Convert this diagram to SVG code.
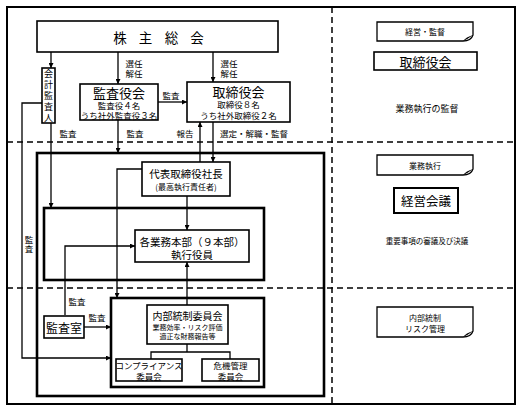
<svg xmlns="http://www.w3.org/2000/svg" width="525" height="411" viewBox="0 0 525 411">
<style>
text{font-family:"Noto Sans CJK JP","Noto Sans",sans-serif;fill:#000;text-anchor:middle;dominant-baseline:central}
.box{fill:#fff;stroke:#000;stroke-width:1.6}
.thick{fill:none;stroke:#000;stroke-width:2.6}
.dash{fill:none;stroke:#000;stroke-width:1.5;stroke-dasharray:6 4}
.ln{fill:none;stroke:#000;stroke-width:1.3}
.arr{fill:none;stroke:#000;stroke-width:1.3;marker-end:url(#ah)}
.lbl{font-size:8.5px}
.vt{writing-mode:tb;text-anchor:middle;dominant-baseline:central}
.note{fill:#fff;stroke:#000;stroke-width:1.3}
</style>
<defs>
<marker id="ah" viewBox="0 0 10 10" refX="10" refY="5" markerWidth="5" markerHeight="5" orient="auto" markerUnits="userSpaceOnUse">
<path d="M0,0 L10,5 L0,10 Z" fill="#000"/>
</marker>
</defs>
<rect width="525" height="411" fill="#fff"/>
<g id="frame">
<rect x="7" y="7" width="508" height="397" fill="none" stroke="#000" stroke-width="2"/>
<line class="dash" x1="332" y1="7" x2="332" y2="404"/>
<line class="dash" x1="7" y1="142" x2="515" y2="142"/>
<line class="dash" x1="7" y1="288" x2="515" y2="288"/>
</g>
<g id="containers">
<rect class="thick" x="37" y="153" width="287" height="243"/>
<rect class="thick" x="44" y="208" width="220" height="72"/>
<rect class="thick" x="111" y="298" width="153" height="89"/>
</g>
<g id="connectors">
<line class="arr" x1="51" y1="52" x2="51" y2="68"/>
<line class="arr" x1="118" y1="52" x2="118" y2="84"/>
<text class="lbl" x="134" y="62.5">選任<tspan x="134" dy="10.5">解任</tspan></text>
<line class="arr" x1="213" y1="52" x2="213" y2="82"/>
<text class="lbl" x="229" y="62.5">選任<tspan x="229" dy="10.5">解任</tspan></text>
<line class="arr" x1="158" y1="102" x2="187" y2="102"/>
<text class="lbl" x="171" y="95">監査</text>
<line class="arr" x1="51" y1="123" x2="51" y2="208"/>
<text class="lbl" x="68" y="133">監査</text>
<line class="arr" x1="118" y1="120" x2="118" y2="153"/>
<text class="lbl" x="135" y="133">監査</text>
<line class="arr" x1="200" y1="162" x2="200" y2="122"/>
<text class="lbl" x="185" y="133">報告</text>
<line class="arr" x1="213" y1="122" x2="213" y2="162"/>
<text class="lbl" x="254" y="133">選定・解職・監督</text>
<polyline class="arr" points="42,103 22,103 22,358 111,358"/>
<text class="lbl vt" x="29" y="245" letter-spacing="1">監査</text>
<polyline class="arr" points="142,169 117,169 117,298"/>
<line class="arr" x1="187" y1="196" x2="187" y2="230"/>
<line class="arr" x1="187" y1="305" x2="187" y2="262"/>
<polyline class="arr" points="65,315 65,246 135,246"/>
<text class="lbl" x="77" y="301">監査</text>
<line class="arr" x1="84" y1="327" x2="111" y2="327"/>
<text class="lbl" x="97" y="317">監査</text>
<polyline class="ln" points="187,344 187,352"/>
<polyline class="ln" points="151,359 151,352 230,352 230,359"/>
</g>
<g id="shareholders">
<rect class="box" x="37" y="21" width="241" height="31"/>
<text x="120 145.5 171.5 197" y="36.5" font-size="13.5">株主総会</text>
</g>
<g id="accounting-auditor">
<rect class="box" x="42" y="68" width="13" height="55"/>
<text class="vt" x="48.5" y="96.5" font-size="9" letter-spacing="2">会計監査人</text>
</g>
<g id="audit-board">
<rect class="box" x="80" y="84" width="78" height="36"/>
<text x="119" y="92.5" font-size="13">監査役会<tspan x="119" dy="12.5" font-size="8.5">監査役４名</tspan><tspan x="119" dy="10" font-size="8.5">うち社外監査役３名</tspan></text>
</g>
<g id="board">
<rect class="box" x="187" y="82" width="103" height="40"/>
<text x="238.5" y="91.5" font-size="13">取締役会<tspan x="238.5" dy="12.5" font-size="8.5">取締役８名</tspan><tspan x="238.5" dy="10.5" font-size="8.5">うち社外取締役２名</tspan></text>
</g>
<g id="president">
<rect class="box" x="142" y="162" width="88" height="34"/>
<text x="186" y="173.5" font-size="10.5">代表取締役社長<tspan x="186" dy="12" font-size="8">(最高執行責任者)</tspan></text>
</g>
<g id="divisions">
<rect class="box" x="135" y="230" width="114" height="32"/>
<text x="192" y="241" font-size="10.5">各業務本部（９本部）<tspan x="192" dy="12.5">執行役員</tspan></text>
</g>
<g id="audit-office">
<rect class="box" x="44" y="316" width="40" height="22"/>
<text x="64" y="327" font-size="12">監査室</text>
</g>
<g id="internal-control">
<rect class="box" x="147" y="305" width="81" height="39"/>
<text x="187.5" y="315.5" font-size="10">内部統制委員会<tspan x="187.5" dy="11" font-size="7">業務効率・リスク評価</tspan><tspan x="187.5" dy="9.5" font-size="7">適正な財務報告等</tspan></text>
</g>
<g id="compliance">
<rect class="box" x="116" y="359" width="66" height="22"/>
<text x="149" y="364.5" font-size="8.5">コンプライアンス<tspan x="149" dy="11">委員会</tspan></text>
</g>
<g id="crisis">
<rect class="box" x="202" y="359" width="57" height="22"/>
<text x="230.5" y="364.5" font-size="8.5">危機管理<tspan x="230.5" dy="11">委員会</tspan></text>
</g>
<g id="legend-top">
<path class="note" d="M377,22 H473 V35 Q471,41 463,41 H377 Z"/>
<path d="M463,41 Q466,37 473,35 Q468,39 463,41 Z" fill="#000"/>
<text x="425" y="31" font-size="8">経営・監督</text>
<rect class="box" x="374" y="52" width="103" height="18"/>
<text x="425.5" y="61" font-size="13">取締役会</text>
<text x="427" y="108" font-size="9">業務執行の監督</text>
</g>
<g id="legend-mid">
<path class="note" d="M377,155 H473 V169 Q471,175 463,175 H377 Z"/>
<path d="M463,175 Q466,171 473,169 Q468,173 463,175 Z" fill="#000"/>
<text x="425" y="165" font-size="8">業務執行</text>
<rect x="394" y="188" width="64" height="25" fill="#fff" stroke="#000" stroke-width="2"/>
<text x="426" y="200.5" font-size="12.5">経営会議</text>
<text x="427" y="240" font-size="7.5">重要事項の審議及び決議</text>
</g>
<g id="legend-bottom">
<path class="note" d="M377,307 H473 V331 Q471,337 463,337 H377 Z"/>
<path d="M463,337 Q466,333 473,331 Q468,335 463,337 Z" fill="#000"/>
<text x="425" y="317" font-size="8">内部統制<tspan x="425" dy="11">リスク管理</tspan></text>
</g>
</svg>
